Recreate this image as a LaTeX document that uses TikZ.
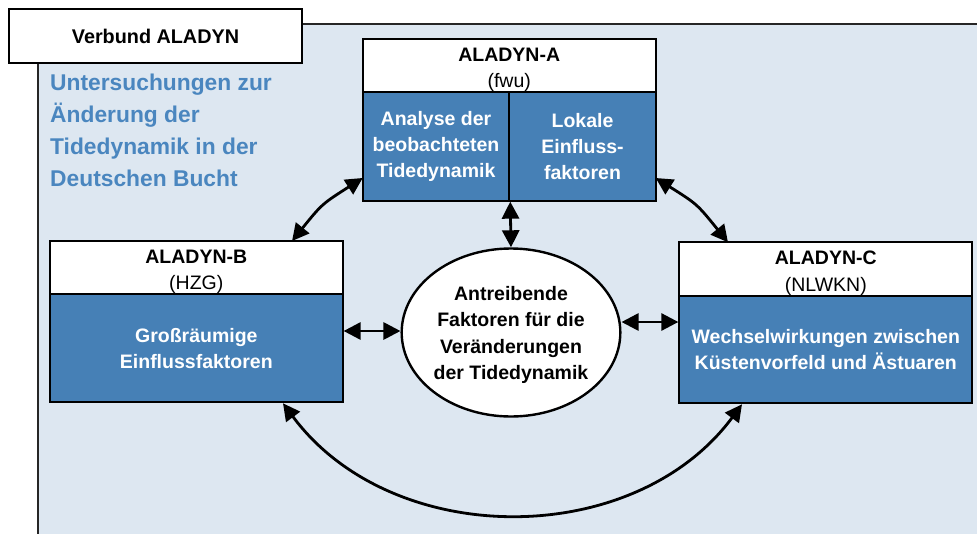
\documentclass[tikz,border=0pt]{standalone}
\usepackage{fontspec}
\setmainfont{Liberation Sans}
\usetikzlibrary{arrows.meta,shapes.geometric}
\definecolor{panelbg}{HTML}{DDE7F1}
\definecolor{boxblue}{HTML}{4680B6}
\definecolor{textblue}{HTML}{4A86BF}
\newcommand{\hstrut}{\rule{0pt}{22pt}}
\tikzset{
  hdr/.style={draw=black, line width=1.9pt, fill=white, minimum width=293pt, minimum height=53.3pt, inner sep=0pt, align=center, font=\fontsize{19.5}{26.5}\selectfont},
  body/.style={draw=black, line width=1.9pt, fill=boxblue, text=white, inner sep=0pt, align=center, font=\bfseries\fontsize{19.5}{25.8}\selectfont},
  link/.style={line width=2.8pt, {Triangle[length=17pt,width=17pt]}-{Triangle[length=17pt,width=17pt]}},
}
\begin{document}
\begin{tikzpicture}[x=1pt,y=-1pt]
\useasboundingbox (0,0) rectangle (977,533);
% panel
\fill[panelbg] (38,24) rectangle (980,536);
\draw[line width=2.4pt, color=black!85] (38,536) -- (38,24) -- (980,24);
% title
\node[hdr, minimum width=293pt, minimum height=54pt, font=\bfseries\fontsize{19.8}{22}\selectfont] (title) at (155.5,36) {Verbund ALADYN};
\node[anchor=west, inner sep=0pt, align=left, text=textblue, font=\bfseries\fontsize{22.8}{32}\selectfont] (desc) at (50,130) {Untersuchungen zur\\Änderung der\\Tidedynamik in der\\Deutschen Bucht};
% A
\node[hdr] (Ahead) at (509.2,65.7) {\hstrut\textbf{ALADYN-A}\\(fwu)};
\node[body, minimum width=146.6pt, minimum height=108.4pt] (Aleft) at (436,146.5) {Analyse der\\beobachteten\\Tidedynamik};
\node[body, minimum width=146.4pt, minimum height=108.4pt] (Aright) at (582.5,146.5) {Lokale\\Einfluss-\\faktoren};
% B
\node[hdr] (Bhead) at (196.3,267.7) {\hstrut\textbf{ALADYN-B}\\(HZG)};
\node[body, minimum width=292.7pt, minimum height=108pt] (Bbody) at (196.3,348.3) {Großräumige\\Einflussfaktoren};
% C
\node[hdr] (Chead) at (825.8,269) {\hstrut\textbf{ALADYN-C}\\(NLWKN)};
\node[body, minimum width=293pt, minimum height=107.6pt] (Cbody) at (825.8,349.5) {Wechselwirkungen zwischen\\Küstenvorfeld und Ästuaren};
% ellipse
\node[ellipse, draw=black, line width=2.4pt, fill=white, minimum width=216pt, minimum height=168pt, inner sep=0pt, align=center, font=\bfseries\fontsize{19.5}{26.3}\selectfont] (E) at (511,332.5) {\rule{0pt}{19pt}Antreibende\\Faktoren für die\\Veränderungen\\der Tidedynamik};
% connector ends
\coordinate (bA) at (292,241);
\coordinate (aB) at (362.7,178);
\coordinate (aC) at (655.7,178);
\coordinate (cA) at (728,242.3);
\coordinate (bC) at (283,403.3);
\coordinate (cB) at (742,404.3);
% connectors
\draw[link] (Aleft.south east) -- (E.north);
\draw[link] (Bbody.east |- 0,331) -- (E.west |- 0,331);
\draw[link] (E.east |- 0,322) -- (Cbody.west |- 0,322);
\draw[link] (bA) .. controls (322,204) .. (aB);
\draw[link] (aC) .. controls (697,204) .. (cA);
\draw[link] (bC) .. controls (392,550) and (634,550) .. (cB);
\end{tikzpicture}
\end{document}
